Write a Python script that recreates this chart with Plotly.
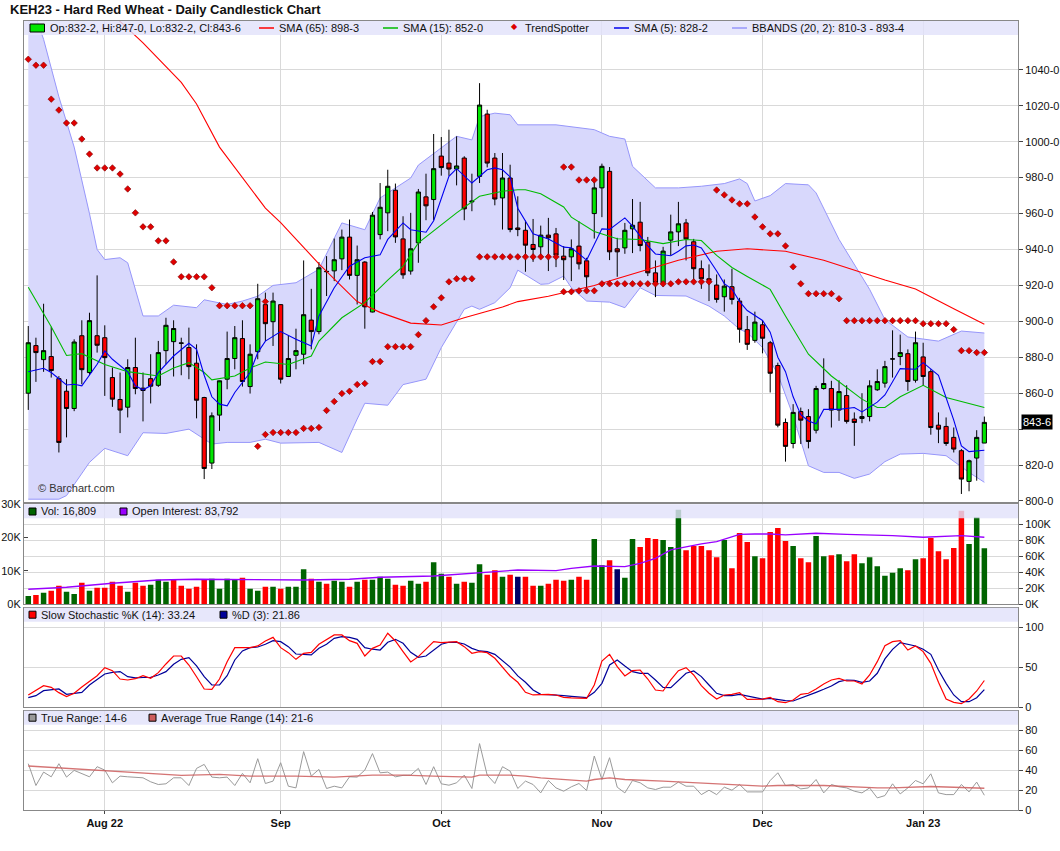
import plotly.graph_objects as go
import pandas as pd

# trading days on the chart (weekends and exchange holidays left out)
holidays = ["2022-09-05", "2022-11-24", "2022-12-26", "2023-01-02"]
dates = [d.strftime("%Y-%m-%d") for d in pd.bdate_range("2022-07-18", "2023-01-13")]
dates = [d for d in dates if d not in holidays]

month_ticks = ["2022-08-01", "2022-09-01", "2022-10-03", "2022-11-01", "2022-12-01", "2023-01-03"]
month_labels = ["Aug 22", "Sep", "Oct", "Nov", "Dec", "Jan 23"]

opens = [860.0, 886.5, 878.7, 880.4, 868.1, 861.1, 851.5, 892.0, 871.5, 892.0,
         890.9, 868.7, 856.5, 852.2, 874.3, 862.8, 868.1, 864.4, 883.7, 888.7,
         888.0, 885.4, 876.7, 857.6, 821.1, 847.8, 867.8, 879.3, 890.4, 863.7,
         883.1, 909.3, 899.8, 909.3, 869.3, 881.1, 881.7, 900.7, 894.3, 927.6,
         928.1, 934.8, 946.9, 925.6, 933.0, 905.2, 948.3, 960.4, 973.0, 945.9,
         928.0, 943.7, 969.3, 967.8, 992.0, 988.1, 984.8, 990.9, 966.5, 980.7,
         1015.4, 990.9, 968.7, 979.8, 952.0, 950.7, 942.8, 941.5, 948.0, 948.7,
         936.3, 935.9, 941.9, 933.7, 960.0, 974.3, 983.5, 940.4, 940.9, 951.5,
         955.2, 944.1, 927.0, 921.5, 945.2, 949.8, 954.8, 944.3, 929.3, 923.7,
         920.2, 913.7, 919.3, 911.3, 895.4, 889.4, 898.1, 888.1, 875.4, 843.7,
         832.0, 849.8, 847.0, 839.4, 862.6, 862.6, 850.6, 858.7, 845.6, 845.9,
         847.0, 861.9, 865.6, 879.0, 880.4, 882.0, 867.2, 880.2, 872.0, 842.2,
         841.5, 835.4, 828.0, 810.9, 823.9, 832.25]
highs = [897.4, 890.9, 909.8, 897.0, 869.5, 867.8, 890.0, 900.6, 904.8, 925.6,
         897.8, 874.3, 871.5, 878.9, 890.9, 871.5, 881.7, 889.1, 902.0, 900.6,
         890.9, 896.5, 887.2, 858.0, 849.3, 867.0, 894.3, 897.4, 900.6, 887.2,
         920.9, 916.0, 916.0, 909.5, 892.2, 895.9, 933.9, 918.1, 933.0, 936.3,
         946.1, 951.1, 956.7, 942.2, 933.5, 960.9, 977.0, 984.4, 976.7, 958.5,
         960.4, 973.7, 982.2, 1004.3, 1002.6, 1006.7, 1003.0, 991.9, 982.2, 1032.6,
         1017.8, 993.7, 993.7, 987.2, 969.6, 956.1, 957.0, 953.3, 957.6, 952.0,
         941.9, 945.6, 955.7, 935.4, 979.8, 987.8, 985.9, 946.5, 954.8, 968.1,
         966.5, 947.0, 933.9, 941.5, 959.4, 966.5, 957.0, 945.9, 933.9, 931.7,
         926.1, 923.3, 929.3, 913.1, 903.0, 905.4, 900.6, 889.1, 877.0, 845.9,
         853.9, 852.0, 851.1, 864.1, 879.4, 866.9, 867.2, 864.4, 849.3, 860.0,
         867.2, 873.3, 878.0, 895.0, 892.6, 884.4, 894.3, 888.1, 873.3, 849.3,
         846.5, 840.9, 828.9, 823.0, 839.4, 847.0]
lows = [850.7, 866.3, 871.9, 868.7, 827.0, 835.4, 850.0, 865.0, 870.0, 882.6,
        858.5, 852.4, 837.8, 846.5, 859.4, 844.3, 854.3, 863.5, 876.1, 869.3,
        870.0, 867.8, 846.0, 812.2, 817.8, 839.0, 862.2, 873.3, 863.7, 859.8,
        878.9, 889.0, 886.3, 865.4, 869.0, 873.3, 876.1, 884.4, 892.8, 914.1,
        922.4, 928.5, 923.3, 909.4, 895.9, 905.0, 945.6, 950.2, 943.7, 923.7,
        926.0, 932.6, 956.3, 956.3, 981.1, 981.0, 975.7, 956.3, 961.3, 977.0,
        985.7, 964.6, 951.1, 949.6, 947.4, 927.6, 933.1, 935.9, 928.0, 930.2,
        923.0, 922.4, 928.9, 915.9, 946.1, 958.0, 934.1, 924.8, 937.6, 938.0,
        939.0, 925.2, 913.5, 919.3, 936.7, 941.9, 933.9, 923.0, 918.1, 911.3,
        910.4, 905.4, 909.4, 888.1, 884.1, 888.1, 882.2, 860.4, 841.0, 821.9,
        829.3, 831.7, 829.3, 837.6, 862.0, 840.9, 844.6, 843.1, 830.7, 843.3,
        844.3, 861.3, 863.1, 868.7, 875.6, 861.3, 865.9, 864.1, 836.9, 832.2,
        830.7, 827.0, 803.9, 805.4, 811.3, 832.25]
closes = [888.1, 882.6, 883.7, 872.6, 832.6, 851.5, 888.5, 873.1, 900.4, 886.7,
          879.8, 856.7, 850.6, 874.3, 862.6, 861.5, 863.9, 882.6, 897.8, 896.0,
          887.8, 874.8, 856.1, 818.1, 847.4, 866.9, 879.3, 890.9, 866.5, 881.7,
          912.6, 898.7, 911.3, 867.8, 879.3, 883.7, 903.7, 894.3, 929.8, 927.8,
          934.3, 946.9, 925.6, 934.3, 908.1, 959.1, 963.5, 975.2, 947.0, 925.9,
          940.4, 972.0, 964.3, 985.0, 985.6, 984.8, 986.5, 962.6, 966.9, 1020.4,
          988.1, 968.1, 979.8, 951.1, 951.1, 942.4, 940.0, 948.0, 946.5, 936.9,
          934.3, 940.4, 932.0, 924.8, 974.3, 986.3, 938.7, 938.7, 950.7, 953.5,
          942.2, 927.0, 921.5, 939.1, 949.8, 954.3, 945.9, 929.3, 923.7, 922.8,
          912.2, 919.6, 912.2, 895.6, 887.2, 899.6, 890.6, 871.1, 842.2, 830.4,
          849.3, 845.0, 833.1, 862.6, 865.4, 850.6, 860.9, 844.3, 843.7, 847.0,
          864.1, 866.5, 874.8, 879.1, 882.6, 866.5, 888.1, 869.3, 840.9, 840.0,
          832.0, 828.9, 812.2, 822.4, 835.4, 843.75]

# moving averages / bands at sample days (1-based day number)
sma65_idx = [10, 16, 21, 23, 26, 29, 32, 34, 39, 44, 47, 51, 55, 58, 63, 65, 69, 75, 79, 86,
             91, 95, 100, 105, 113, 117, 122, 126]
sma65_val = [1079, 1055, 1033, 1021, 997, 980, 963, 955, 932, 911, 905, 899, 898, 902, 908, 911,
             914, 920, 925, 934, 939, 940.4, 939, 934, 923, 918, 907, 898.4]

sma15_idx = [1, 4, 6, 8, 11, 14, 18, 20, 22, 24, 25, 28, 30, 32, 35, 38, 39, 42, 45, 48,
             50, 52, 57, 60, 63, 65, 66, 68, 71, 72, 75, 78, 81, 84, 87, 89, 91, 93, 95, 98,
             100, 103, 106, 110, 112, 113, 115, 118, 121, 124, 126]
sma15_val = [919, 897, 881, 882, 876, 872, 869.6, 874, 877, 871.5, 867.4, 869.6, 874, 877.4, 876,
             880.7, 889, 902, 910.4, 923, 930.7, 943.7, 960.4, 969.6, 972.4, 973.3, 973.3, 971,
             963.7, 958, 950, 946, 945.6, 943.3, 945.6, 945, 936.7, 930, 925, 917.8, 903, 881.7,
             869.6, 856.7, 852, 852, 858, 864.4, 857.6, 854.3, 852]

sma5_idx = [1, 3, 4, 6, 7, 8, 10, 11, 12, 14, 15, 16, 17, 18, 20, 22, 23, 24, 25, 26,
            27, 28, 30, 31, 32, 34, 36, 38, 39, 41, 43, 45, 47, 48, 50, 51, 53, 54, 56, 57,
            59, 61, 62, 63, 64, 65, 67, 69, 71, 72, 74, 75, 76, 77, 79, 80, 82, 83, 85, 86,
            87, 88, 89, 91, 92, 93, 94, 95, 97, 98, 99, 100, 101, 102, 103, 104, 105, 107, 109, 110,
            112, 113, 115, 117, 118, 120, 121, 122, 123, 124, 126]
sma5_val = [871.9, 873.9, 871.5, 864.6, 865, 864.1, 876.1, 883.5, 878.9, 871.9,
            864.1, 861.9, 864.1, 871.5, 880.7, 887.8, 884.4, 870, 858, 853.9,
            853, 860.4, 871.5, 882.6, 889, 894.3, 890, 886.3, 903, 918.7,
            930.7, 935.4, 937, 945.6, 954.8, 951, 949.6, 956, 980.7, 985,
            977, 984.4, 985.4, 984.4, 980.4, 963, 948.8, 945.8, 941.3, 941,
            934.1, 943, 951.5, 951.2, 957.6, 953, 942, 937.5, 936.5, 939,
            942, 942.5, 940.9, 928, 921, 918, 911, 906, 900.5, 894,
            880, 872, 858, 848, 844.5, 843, 851, 851, 852, 849.6,
            855, 859, 873.7, 873.3, 877, 870, 858, 845, 830.7, 827.5, 828.25]

bb_up_idx = [1, 3, 5, 7, 9, 10, 11, 13, 14, 16, 18, 20, 23, 24, 27, 29, 31, 33, 36, 39,
             42, 45, 47, 51, 52, 57, 59, 60, 62, 64, 65, 70, 75, 77, 79, 80, 83, 86, 89, 92,
             94, 95, 96, 98, 100, 103, 104, 107, 111, 113, 116, 120, 123, 126]
bb_up_val = [1082, 1057, 1025, 997, 960, 940, 934.4, 935.4, 932.6, 903, 903, 909, 907.6, 912,
             909.4, 911.3, 914, 920, 921.5, 929, 954.8, 951, 968.7, 979.8, 987, 1003, 1001,
             1014, 1015.9, 1015, 1009.4, 1009.4, 1006.7, 1003, 1001.5, 986.3, 974.3, 974.3,
             975.2, 976.7, 979.3, 976.7, 967, 970, 976.7, 976, 971.5, 945.6, 917.8, 901,
             891.3, 889, 894.6, 893.5]

bb_lo_idx = [1, 5, 6, 9, 11, 14, 16, 19, 22, 25, 27, 30, 32, 34, 39, 42, 44, 45, 48, 50,
             53, 55, 58, 59, 60, 62, 64, 65, 68, 69, 71, 72, 74, 77, 79, 81, 83, 87, 90, 92,
             94, 95, 97, 99, 101, 103, 105, 107, 109, 111, 113, 115, 118, 121, 124, 126]
bb_lo_val = [801, 801, 803, 821.5, 829.3, 825.2, 838, 837.6, 840, 831.7, 832.6, 832.6, 834.4,
             832.2, 832.6, 827, 845.6, 854.4, 853.3, 864.8, 867.8, 885.4, 906.7, 908.5, 906.7,
             910.4, 918.7, 928.5, 920.6, 920.9, 925.2, 918.7, 911.3, 910.7, 907.6, 918.7,
             914.4, 914.1, 908.5, 903, 895.6, 893.7, 885.4, 870.6, 847.4, 819.6, 815.9, 815.9,
             812.6, 815, 821.9, 826.1, 826.5, 825.2, 815.9, 810.4]

trendspotter = [1045.9, 1042.6, 1042.6, 1023.7, 1017.6, 1010.4, 1010.4, 1001.5, 993.1, 985.4,
                985.4, 985.4, 982.0, 973.7, 960.4, 952.6, 952.6, 944.8, 944.8, 933.1,
                924.8, 924.8, 924.8, 924.8, 918.7, 908.7, 908.7, 908.7, 908.7, 908.7,
                830.4, 837.0, 838.1, 838.1, 838.1, 838.1, 840.4, 840.4, 840.9, 850.4,
                855.4, 859.8, 861.1, 864.8, 865.4, 877.6, 877.6, 885.9, 885.9, 885.9,
                885.9, 892.6, 900.4, 908.1, 913.1, 922.0, 923.7, 923.7, 923.7, 935.9,
                935.9, 935.9, 935.9, 935.9, 935.9, 935.9, 935.9, 935.9, 935.9, 935.9,
                916.5, 916.5, 917.0, 917.0, 917.0, 920.9, 920.9, 920.9, 920.9, 920.9,
                920.9, 920.9, 920.9, 920.9, 920.9, 922.0, 922.0, 922.0, 922.0, 922.0,
                973.1, 970.4, 967.6, 965.4, 965.4, 958.1, 952.6, 948.7, 948.7, 942.0,
                930.4, 920.9, 915.4, 915.4, 915.4, 915.4, 912.6, 900.4, 900.4, 900.4,
                900.4, 900.4, 900.4, 900.4, 900.4, 900.4, 900.4, 898.7, 898.7, 898.7,
                898.7, 895.4, 883.7, 883.7, 882.6, 882.6]
ts_extra_idx = [32, 71, 72, 73, 74, 75]
ts_extra_val = [911.0, 985.9, 985.9, 978.7, 978.7, 978.7]

volume = [2500, 2800, 3500, 4100, 5600, 3800, 3100, 6500, 4100, 5000,
          5000, 6800, 5600, 3800, 6500, 5600, 5900, 7400, 6800, 7400,
          5600, 4700, 5300, 7400, 7700, 4700, 7700, 7400, 8000, 4700,
          4100, 5300, 5300, 4700, 5300, 5300, 10500, 7700, 6800, 6200,
          7100, 6800, 5300, 6800, 7400, 7400, 8300, 7700, 5900, 5600,
          7100, 6200, 6800, 12600, 9200, 8300, 6200, 6800, 6500, 12000,
          8900, 10200, 8300, 8900, 8300, 8300, 5600, 5600, 6200, 7400,
          7100, 7400, 8300, 7400, 19600, 11700, 13200, 10500, 8000, 19600,
          17200, 19900, 19600, 19300, 17200, 28400, 16200, 17500, 17500, 16200,
          14100, 19300, 10800, 21400, 18700, 14400, 13800, 21700, 22900, 19000,
          17500, 13800, 12600, 20500, 14400, 14700, 15000, 12900, 15000, 12300,
          14100, 11400, 8600, 9500, 10800, 10200, 13500, 13800, 19900, 15900,
          13500, 16900, 28100, 18100, 26200, 16809]
vol_dir = ["u", "d", "u", "d", "d", "u", "u", "d", "u", "d",
           "d", "d", "d", "u", "d", "d", "u", "u", "u", "d",
           "d", "d", "d", "d", "u", "u", "u", "u", "d", "u",
           "u", "d", "u", "d", "u", "u", "u", "d", "u", "d",
           "u", "u", "d", "u", "d", "u", "u", "u", "d", "d",
           "u", "u", "d", "u", "u", "d", "u", "d", "u", "u",
           "d", "d", "u", "d", "n", "d", "d", "u", "d", "d",
           "d", "u", "d", "d", "u", "u", "d", "n", "u", "u",
           "d", "d", "d", "u", "u", "u", "d", "d", "d", "d",
           "d", "u", "d", "d", "d", "u", "d", "d", "d", "d",
           "u", "d", "d", "u", "u", "d", "u", "d", "d", "u",
           "u", "u", "u", "u", "u", "d", "u", "d", "d", "d",
           "d", "d", "d", "u", "u", "u"]

oi_idx = [1, 6, 12, 18, 23, 30, 37, 43, 47, 54, 58, 63, 65, 70, 72, 75, 79, 81, 83, 85,
          87, 89, 91, 93, 94, 96, 98, 100, 104, 108, 112, 114, 118, 121, 123, 126]
oi_val = [18800, 21300, 26300, 30400, 31300, 30400, 30400, 31300, 33800, 35400,
          37900, 41300, 42900, 42100, 45000, 47900, 47100, 51300, 57500, 67900,
          72100, 75400, 78300, 83800, 87500, 87900, 87900, 86700, 88800, 87500,
          86700, 85800, 83800, 84600, 85800, 83792]

stoch_k = [15.1, 21, 26.8, 24.7, 18, 13, 17.2, 25, 32.6, 39.3,
           49.4, 45.6, 35.1, 33.9, 35.5, 39.3, 36, 43.1, 54, 64,
           64, 52.7, 38, 22.6, 22.2, 35.1, 56.9, 74.5, 74.5, 74.5,
           76.6, 82.8, 87.4, 74.5, 68.2, 59.8, 67.4, 68.6, 78.7, 84.1,
           90.4, 90.4, 83.3, 79.9, 64, 73.6, 77.8, 92.5, 82.8, 69.5,
           56.5, 63.2, 72.4, 82, 80.8, 81, 82, 75.7, 67.4, 69.5,
           68.2, 61.1, 50, 38.9, 31, 18.4, 15.1, 15.5, 15.9, 15.1,
           12.1, 11.5, 11.2, 10.9, 27.6, 57.7, 66.1, 50.6, 38.9, 45.6,
           46.4, 35.1, 21.3, 20.1, 33.9, 45.6, 49.4, 40.2, 26.8, 17.2,
           10, 15.1, 15.9, 18, 9.6, 9.6, 10, 12.1, 6.7, 5.4,
           8.8, 15.9, 17.2, 22.6, 28.9, 33.9, 36, 32.6, 32.6, 28.9,
           40.2, 56.9, 77, 82, 83.3, 71.5, 76.6, 69.5, 54.8, 31,
           10, 5.9, 4.2, 10, 20.1, 33.24]
stoch_d = [11.7, 14.2, 20.5, 22, 22.6, 15.9, 17, 18.4, 27.6, 34,
           41.4, 43.5, 44.4, 38.1, 36.5, 37, 37.2, 40.2, 44.4, 53.6,
           59.8, 61.9, 51.5, 38.1, 27.6, 27.6, 39.3, 59, 70.3, 74.5,
           75.3, 78.7, 83.3, 82, 75.7, 66.5, 65.5, 65.3, 73.6, 78.7,
           86.2, 88.3, 87.4, 84.9, 74.5, 72.5, 71.5, 81.2, 84.9, 79.9,
           68.6, 62.3, 64, 71.5, 78.7, 81.2, 81.2, 79.1, 73.6, 70.3,
           69.5, 66.1, 58, 50, 39, 31, 21.3, 15.9, 15.5, 15.1,
           14.2, 13.3, 12.5, 11.7, 18.4, 29.7, 52.7, 59, 51.5, 44.4,
           42.3, 42.3, 33.9, 24.7, 24.3, 33.9, 42.3, 45.2, 38.1, 27.6,
           17.2, 14.2, 14.2, 15.9, 14.2, 12, 10, 10.9, 9.2, 7.9,
           7.5, 10.9, 14.5, 18.4, 22.2, 26.4, 31.8, 33.9, 33.5, 31,
           32.6, 42.3, 60.3, 72.4, 80.8, 79.1, 76.6, 72.4, 66.1, 46.4,
           29.7, 15.1, 6.7, 6.7, 11.7, 21.86]

true_range = [46.3, 24.5, 37.9, 33.2, 46.3, 32.9, 39.6, 36.2, 33.2, 43.3,
              39.9, 27.2, 33.9, 33.2, 32.5, 32.2, 28.2, 25.5, 26.2, 32.2,
              32.2, 24.5, 41.6, 45.6, 32.9, 32.2, 32.9, 24.5, 36.6, 27.2,
              51.3, 26.5, 28.9, 47.3, 23.8, 22.1, 58.4, 33.9, 40.6, 21.5,
              23.8, 22.1, 33.2, 32.9, 39.9, 56.4, 37.2, 37.9, 33.2, 34.6,
              34.9, 41.6, 25.5, 43.3, 26.2, 24.8, 27.2, 34.9, 21.5, 66.4,
              34.9, 26.5, 43.3, 38.9, 21.5, 28.9, 25.5, 17.1, 29.5, 22.1,
              18.8, 23.2, 26.5, 19.5, 54.0, 30.5, 52.3, 22.8, 17.1, 29.5,
              27.2, 22.1, 20.5, 22.8, 22.8, 27.9, 23.8, 23.8, 15.4, 19.8,
              15.4, 22.8, 19.8, 25.5, 18.1, 18.1, 18.1, 29.5, 37.2, 24.5,
              25.5, 21.1, 22.1, 30.5, 17.1, 25.5, 23.2, 22.1, 18.8, 17.1,
              22.1, 12.1, 14.4, 26.2, 16.1, 22.1, 29.5, 26.2, 36.2, 17.1,
              15.4, 15.4, 25.5, 18.1, 27.9, 14.75]
atr_idx = [1, 6, 11, 16, 21, 26, 30, 36, 41, 46, 50, 54, 59, 60, 64, 66, 68, 74, 75, 77,
           79, 84, 88, 92, 97, 99, 105, 112, 114, 119, 126]
atr_val = [44, 41.6, 39.9, 37.2, 34.6, 35.6, 33.9, 33.9, 32.9, 34.9, 34.9, 33.9, 32.9, 34.9,
           34.9, 33.9, 32.2, 28.9, 30.5, 32.2, 30.5, 28.9, 27.2, 25.5, 23.8, 24.5, 24.5, 22.1,
           22.1, 23.5, 21.75]

price_ticks = [800, 820, 840, 860, 880, 900, 920, 940, 960, 980, 1000, 1020, 1040]
# the 840 label sits under the last-price box on the original, so it is left blank
price_tick_text = ["" if v == 840 else f"{v}-0" for v in price_ticks]


def at(idx):
    return [dates[i - 1] for i in idx]


# pixel geometry of the plotting area
PL, PR, PT, PB = 24, 1018, 21, 810


def fx(px):
    return (px - PL) / (PR - PL)


def fy(py):
    return (PB - py) / (PB - PT)


FONT = "Liberation Sans, Arial, sans-serif"
GRID = "#d9d9d9"
FRAME = "#888888"
vol_colors = {"u": "#006400", "d": "#ff0000", "n": "#000066"}

fig = go.Figure()

# bollinger band (base price axis, so it sits under the candles)
fig.add_trace(go.Scatter(x=at(bb_lo_idx), y=bb_lo_val, mode="lines",
                         line=dict(color="rgb(150,150,250)", width=1), xaxis="x", yaxis="y"))
fig.add_trace(go.Scatter(x=at(bb_up_idx), y=bb_up_val, mode="lines", fill="tonexty",
                         fillcolor="rgb(216,216,252)",
                         line=dict(color="rgb(150,150,250)", width=1), xaxis="x", yaxis="y"))

# candles + overlays on the overlaying price axis
fig.add_trace(go.Candlestick(x=dates, open=opens, high=highs, low=lows, close=closes,
                             increasing=dict(fillcolor="#00e600", line=dict(color="black", width=1)),
                             decreasing=dict(fillcolor="#ff0000", line=dict(color="black", width=1)),
                             whiskerwidth=0, xaxis="x", yaxis="y6"))
fig.add_trace(go.Scatter(x=at(sma65_idx), y=sma65_val, mode="lines", line=dict(color="#ff0000", width=1.1),
                         xaxis="x", yaxis="y6"))
fig.add_trace(go.Scatter(x=at(sma15_idx), y=sma15_val, mode="lines", line=dict(color="#00bb00", width=1.1),
                         xaxis="x", yaxis="y6"))
fig.add_trace(go.Scatter(x=at(sma5_idx), y=sma5_val, mode="lines", line=dict(color="#0000ee", width=1.1),
                         xaxis="x", yaxis="y6"))
dot = dict(symbol="diamond", size=5, color="#e00000", line=dict(color="#7a0000", width=0.6))
fig.add_trace(go.Scatter(x=dates, y=trendspotter, mode="markers", marker=dot, xaxis="x", yaxis="y6"))
fig.add_trace(go.Scatter(x=at(ts_extra_idx), y=ts_extra_val, mode="markers", marker=dot,
                         xaxis="x", yaxis="y6"))

# volume + open interest
fig.add_trace(go.Bar(x=dates, y=volume, marker=dict(color=[vol_colors[d] for d in vol_dir], line_width=0),
                     xaxis="x2", yaxis="y2"))
fig.add_trace(go.Scatter(x=at(oi_idx), y=oi_val, mode="lines", line=dict(color="#9900ff", width=1.3),
                         xaxis="x2", yaxis="y3"))

# slow stochastic
fig.add_trace(go.Scatter(x=dates, y=stoch_d, mode="lines", line=dict(color="#000099", width=1.2),
                         xaxis="x3", yaxis="y4"))
fig.add_trace(go.Scatter(x=dates, y=stoch_k, mode="lines", line=dict(color="#ff0000", width=1.2),
                         xaxis="x3", yaxis="y4"))

# true range / ATR
fig.add_trace(go.Scatter(x=dates, y=true_range, mode="lines", line=dict(color="#9a9a9a", width=1),
                         xaxis="x4", yaxis="y5"))
fig.add_trace(go.Scatter(x=at(atr_idx), y=atr_val, mode="lines", line=dict(color="rgba(205,92,92,0.85)", width=1.3),
                         xaxis="x4", yaxis="y5"))

xbase = dict(type="category", categoryorder="array", categoryarray=dates, range=[-0.56, 129.4],
             tickvals=month_ticks, ticktext=month_labels, showgrid=True, gridcolor=GRID,
             showline=True, linecolor=FRAME, mirror=True, zeroline=False, showticklabels=False,
             ticks="", fixedrange=True, automargin=False)
ybase = dict(side="right", showgrid=True, gridcolor=GRID, showline=True, linecolor=FRAME, mirror=True,
             zeroline=False, ticks="outside", ticklen=4, tickcolor="#444", tickfont=dict(size=11, color="#111"),
             fixedrange=True, automargin=False)

price_dom = [fy(501.7), 1]
vol_dom = [fy(604.3), fy(504.3)]
sto_dom = [fy(707), fy(607.7)]
tr_dom = [0, fy(710.7)]
price_rng = [799.6, 1067.2]

fig.update_layout(
    width=1060, height=851,
    margin=dict(l=PL, r=1060 - PR, t=PT, b=851 - PB, autoexpand=False),
    paper_bgcolor="white", plot_bgcolor="white",
    font=dict(family=FONT, size=11, color="#111"),
    showlegend=False, boxgap=0.22, bargap=0.28,
    title=dict(text="<b>KEH23 - Hard Red Wheat - Daily Candlestick Chart</b>", x=10 / 1060, xanchor="left",
               xref="container", y=1 - 9 / 851, yanchor="middle", yref="container",
               font=dict(size=13, color="#111", family=FONT)),
    xaxis=dict(xbase, anchor="y", rangeslider=dict(visible=False)),
    xaxis2=dict(xbase, anchor="y2"),
    xaxis3=dict(xbase, anchor="y4"),
    xaxis4=dict(xbase, anchor="y5", showticklabels=True, ticks="outside", ticklen=3, tickcolor="#444",
                tickfont=dict(size=11, color="#111", weight="bold")),
    yaxis=dict(ybase, domain=price_dom, range=price_rng, anchor="x", tickvals=price_ticks,
               ticktext=price_tick_text),
    yaxis6=dict(overlaying="y", range=price_rng, visible=False, fixedrange=True, automargin=False),
    yaxis2=dict(ybase, domain=vol_dom, range=[0, 30000], anchor="x2", side="left", showgrid=False,
                ticks="inside", tickvals=[0, 10000, 20000, 30000], ticktext=["0K", "10K", "20K", "30K"]),
    yaxis3=dict(ybase, overlaying="y2", range=[0, 125000], anchor="x2", showline=False,
                tickvals=[0, 20000, 40000, 60000, 80000, 100000],
                ticktext=["0K", "20K", "40K", "60K", "80K", "100K"]),
    yaxis4=dict(ybase, domain=sto_dom, range=[0, 124.6], anchor="x3", tickvals=[0, 50, 100]),
    yaxis5=dict(ybase, domain=tr_dom, range=[0, 99.3], anchor="x4", tickvals=[0, 20, 40, 60, 80]),
)

shapes = []
annotations = []


def legend_band(top):
    shapes.append(dict(type="rect", xref="paper", yref="paper", x0=0, x1=1, y0=fy(top + 14), y1=fy(top),
                       fillcolor="rgba(226,226,250,0.82)", line_width=0, layer="above"))


def label(px, cy, text):
    annotations.append(dict(xref="paper", yref="paper", x=fx(px), y=fy(cy), xanchor="left", yanchor="middle",
                            text=text, showarrow=False, font=dict(size=11, color="#111")))


def swatch(x0, x1, cy, color, half=3.5):
    shapes.append(dict(type="rect", xref="paper", yref="paper", x0=fx(x0), x1=fx(x1), y0=fy(cy + half),
                       y1=fy(cy - half), fillcolor=color, line=dict(color="black", width=1), layer="above"))


def dash(x0, x1, cy, color):
    shapes.append(dict(type="line", xref="paper", yref="paper", x0=fx(x0), x1=fx(x1), y0=fy(cy), y1=fy(cy),
                       line=dict(color=color, width=1.5), layer="above"))


# price panel legend
legend_band(21)
swatch(30, 44.5, 28, "#00e600", half=4)
label(48, 28, "Op:832-2, Hi:847-0, Lo:832-2, Cl:843-6")
dash(259, 274, 28, "#ff0000")
label(277, 28, "SMA (65): 898-3")
dash(383, 398, 28, "#00bb00")
label(401, 28, "SMA (15): 852-0")
annotations.append(dict(xref="paper", yref="paper", x=fx(514), y=fy(27), yanchor="middle", text="◆",
                        showarrow=False, font=dict(size=8, color="#dd0000")))
label(523, 28, "TrendSpotter")
dash(614, 629, 28, "#0000ee")
label(632, 28, "SMA (5): 828-2")
dash(732, 747, 28, "rgb(150,150,250)")
label(750, 28, "BBANDS (20, 2): 810-3 - 893-4")

# volume panel legend
legend_band(504.3)
swatch(29, 36, 511.5, "#006400")
label(39, 511.5, "Vol: 16,809")
swatch(120, 127, 511.5, "#9900ff")
label(130, 511.5, "Open Interest: 83,792")

# stochastic legend
legend_band(607.7)
swatch(29, 36, 614.7, "#ff0000")
label(39, 614.7, "Slow Stochastic %K (14): 33.24")
swatch(220, 227, 614.7, "#000099")
label(230, 614.7, "%D (3): 21.86")

# true range legend
legend_band(710.7)
swatch(29, 36, 717.7, "#999999")
label(39, 717.7, "True Range: 14-6")
swatch(149, 156, 717.7, "#cd5c5c")
label(159, 717.7, "Average True Range (14): 21-6")

annotations.append(dict(xref="paper", yref="paper", x=fx(36), y=fy(488), xanchor="left", yanchor="middle",
                        text="© Barchart.com", showarrow=False, font=dict(size=11, color="#333")))
annotations.append(dict(xref="paper", yref="y", x=fx(1021), y=closes[-1], xanchor="left", yanchor="middle",
                        text="843-6", showarrow=False, bgcolor="black", borderpad=1,
                        font=dict(size=11, color="white")))

fig.update_layout(shapes=shapes, annotations=annotations)

fig.write_html("out.html", config={"displayModeBar": False},
               post_script="document.body.style.margin='0';")
